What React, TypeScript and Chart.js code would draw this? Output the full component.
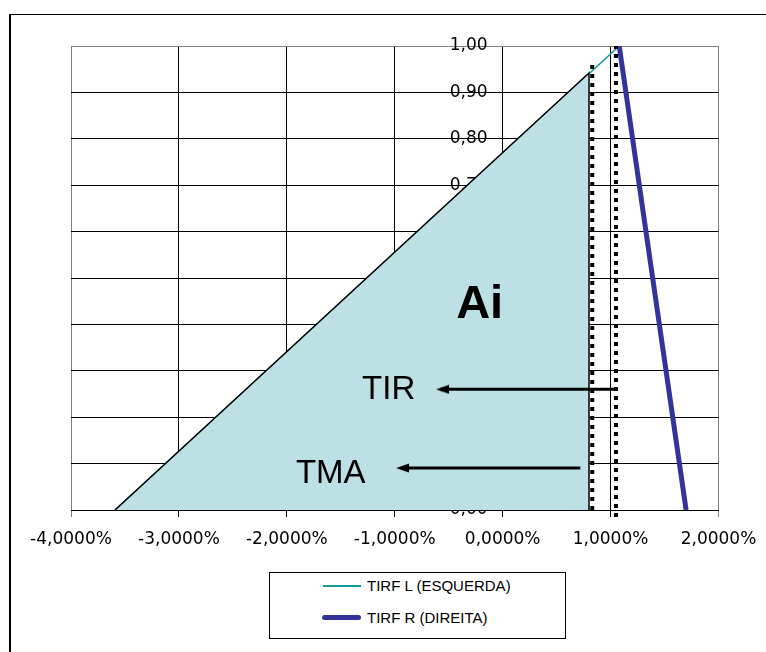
import React, { useEffect, useRef } from 'react';
import { Chart, registerables } from 'chart.js';

Chart.register(...registerables);

// ---- data ----
const SERIES_L_NAME = 'TIRF L (ESQUERDA)';
const SERIES_R_NAME = 'TIRF R (DIREITA)';

const tirfLX = [-3.592, 1.08];
const tirfLY = [0, 1.0];
const tirfRX = [1.08, 1.7];
const tirfRY = [1.0, 0];

const areaX = [-3.592, 0.8, 0.8];
const areaY = [0, 0.942, 0];

const tmaLineX = [0.83, 0.83];
const tmaLineY = [0, 0.963];
const tirLineX = [1.05, 1.05];
const tirLineY = [-0.015, 1.0];

const tirArrowX = [1.065, -0.571];
const tirArrowY = [0.26, 0.26];
const tmaArrowX = [0.72, -0.942];
const tmaArrowY = [0.0905, 0.0905];

const noteTexts = ['Ai', 'TIR', 'TMA'];
const noteX = [-0.431, -1.303, -1.916];
const noteY = [0.414, 0.239, 0.058];

const X_MIN = -4;
const X_MAX = 2;
const X_STEP = 1;
const Y_MIN = 0;
const Y_MAX = 1;
const Y_STEP = 0.1;
// y labels sit just left of the 0 % line
const Y_LABEL_AT_X = -0.14;

const pts = (xs: number[], ys: number[]) => xs.map((x, i) => ({ x, y: ys[i] }));

const fmtX = (v: number) => v.toFixed(4).replace('.', ',') + '%';
const fmtY = (v: number) => v.toFixed(2).replace('.', ',');

const notesPlugin = {
  id: 'notes',
  afterDatasetsDraw(chart: any) {
    const { ctx } = chart;
    const xs = chart.scales.x;
    const ys = chart.scales.y;
    ctx.save();
    ctx.fillStyle = '#000';
    ctx.textBaseline = 'alphabetic';
    ctx.textAlign = 'left';
    noteTexts.forEach((t, i) => {
      ctx.font = i === 0
        ? 'bold 47px "Liberation Sans", Arial, sans-serif'
        : '33px "Liberation Sans", Arial, sans-serif';
      ctx.fillText(t, xs.getPixelForValue(noteX[i]), ys.getPixelForValue(noteY[i]));
    });
    ctx.restore();
  },
};

function makeArrowHead(): HTMLCanvasElement {
  const c = document.createElement('canvas');
  c.width = 18;
  c.height = 10;
  const g = c.getContext('2d')!;
  g.fillStyle = '#000';
  g.beginPath();
  g.moveTo(4, 5);
  g.lineTo(17, 0.5);
  g.lineTo(17, 9.5);
  g.closePath();
  g.fill();
  return c;
}

export default function App() {
  const ref = useRef<HTMLCanvasElement | null>(null);

  useEffect(() => {
    if (!ref.current) return;
    const head = makeArrowHead();
    const chart = new Chart(ref.current, {
      type: 'line',
      data: {
        datasets: [
          {
            label: SERIES_L_NAME,
            data: pts(tirfLX, tirfLY),
            borderColor: '#139a99',
            borderWidth: 1.5,
            pointRadius: 0,
            fill: false,
            order: 6,
          },
          {
            label: 'Ai',
            data: pts(areaX, areaY),
            borderColor: '#000',
            borderWidth: 1.5,
            backgroundColor: '#bce0e4',
            pointRadius: 0,
            fill: 'origin',
            order: 5,
          },
          {
            label: SERIES_R_NAME,
            data: pts(tirfRX, tirfRY),
            borderColor: '#333399',
            borderWidth: 5,
            pointRadius: 0,
            fill: false,
            order: 4,
          },
          {
            label: 'TMA line',
            data: pts(tmaLineX, tmaLineY),
            borderColor: '#000',
            borderWidth: 4,
            borderDash: [4, 5],
            pointRadius: 0,
            fill: false,
            order: 3,
          },
          {
            label: 'TIR line',
            data: pts(tirLineX, tirLineY),
            borderColor: '#000',
            borderWidth: 4,
            borderDash: [4, 5],
            pointRadius: 0,
            fill: false,
            clip: false as any,
            order: 2,
          },
          {
            label: 'TIR arrow',
            data: pts(tirArrowX, tirArrowY),
            borderColor: '#000',
            borderWidth: 3,
            pointRadius: [0, 5],
            pointStyle: ['circle', head] as any,
            fill: false,
            order: 1,
          },
          {
            label: 'TMA arrow',
            data: pts(tmaArrowX, tmaArrowY),
            borderColor: '#000',
            borderWidth: 3,
            pointRadius: [0, 5],
            pointStyle: ['circle', head] as any,
            fill: false,
            order: 0,
          },
        ],
      },
      options: {
        animation: false,
        responsive: false,
        devicePixelRatio: 1,
        layout: { padding: { left: 71, top: 46, right: 47.5, bottom: 142 } },
        plugins: {
          legend: { display: false },
          title: { display: false },
          tooltip: { enabled: false },
        },
        elements: { line: { tension: 0 } },
        scales: {
          x: {
            type: 'linear',
            position: { y: 0 } as any,
            min: X_MIN,
            max: X_MAX,
            afterFit: (s: any) => {
              s.paddingLeft = 0;
              s.paddingRight = 0;
            },
            ticks: {
              stepSize: X_STEP,
              callback: (v: any) => fmtX(Number(v)),
              font: { family: '"DejaVu Sans", sans-serif', size: 17 },
              color: '#000',
              padding: 13,
              maxRotation: 0,
            },
            grid: {
              color: (c: any) =>
                c.tick && (c.tick.value === X_MIN || c.tick.value === X_MAX) ? '#808080' : '#000',
              lineWidth: 1,
              tickLength: 6,
            },
            border: { color: '#000', width: 1 },
          },
          y: {
            type: 'linear',
            position: { x: Y_LABEL_AT_X } as any,
            min: Y_MIN,
            max: Y_MAX,
            afterFit: (s: any) => {
              s.paddingTop = 0;
              s.paddingBottom = 0;
            },
            ticks: {
              stepSize: Y_STEP,
              callback: (v: any) => fmtY(Number(v)),
              font: { family: '"DejaVu Sans", sans-serif', size: 17 },
              color: '#000',
              padding: 0,
            },
            grid: {
              color: (c: any) => (c.tick && c.tick.value === Y_MAX ? '#808080' : '#000'),
              lineWidth: 1,
              drawTicks: false,
            },
            border: { display: false },
          },
        },
      },
      plugins: [notesPlugin],
    });
    return () => chart.destroy();
  }, []);

  const legendText: React.CSSProperties = {
    position: 'absolute',
    left: 97,
    font: '15px "Liberation Sans", Arial, sans-serif',
    lineHeight: '15px',
    color: '#000',
    whiteSpace: 'nowrap',
  };

  return (
    <div
      style={{
        position: 'fixed',
        left: 0,
        top: 0,
        width: 766,
        height: 652,
        overflow: 'hidden',
        background: '#fff',
      }}
    >
      <div
        style={{
          position: 'absolute',
          left: 9,
          top: 14,
          width: 900,
          height: 900,
          borderLeft: '2px solid #000',
          borderTop: '1px solid #000',
        }}
      />
      <canvas
        ref={ref}
        width={766}
        height={652}
        style={{ position: 'absolute', left: 0, top: 0, width: 766, height: 652 }}
      />
      <div
        style={{
          position: 'absolute',
          left: 269,
          top: 572,
          width: 297,
          height: 67,
          boxSizing: 'border-box',
          border: '1px solid #000',
          background: '#fff',
        }}
      >
        <div
          style={{
            position: 'absolute',
            left: 53,
            top: 12,
            width: 38,
            height: 2,
            background: '#139a99',
          }}
        />
        <div style={{ ...legendText, top: 5 }}>{SERIES_L_NAME}</div>
        <div
          style={{
            position: 'absolute',
            left: 52,
            top: 42,
            width: 39,
            height: 5,
            borderRadius: 3,
            background: '#333399',
          }}
        />
        <div style={{ ...legendText, top: 37 }}>{SERIES_R_NAME}</div>
      </div>
    </div>
  );
}
